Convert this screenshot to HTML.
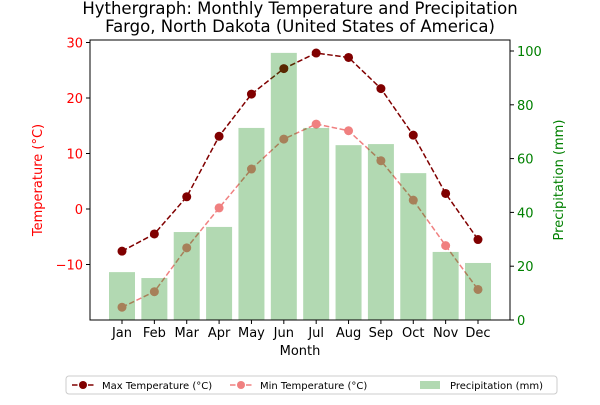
<!DOCTYPE html>
<html><head><meta charset="utf-8"><style>
body{margin:0;background:#fff;font-family:"Liberation Sans","DejaVu Sans",sans-serif}
svg text{font-family:"DejaVu Sans","Liberation Sans",sans-serif}
</style></head><body>
<svg id="c" width="600" height="400" xmlns="http://www.w3.org/2000/svg">
<text x="300" y="14" text-anchor="middle" font-size="16.5">Hythergraph: Monthly Temperature and Precipitation</text>
<text x="300" y="32" text-anchor="middle" font-size="16.5">Fargo, North Dakota (United States of America)</text>
<g id="lines"></g><g id="bars"></g><g id="axes"></g>
</svg>
<script>
const months=["Jan","Feb","Mar","Apr","May","Jun","Jul","Aug","Sep","Oct","Nov","Dec"];
const maxT=[-7.6,-4.5,2.2,13.1,20.7,25.3,28.1,27.3,21.7,13.3,2.8,-5.5];
const minT=[-17.7,-14.9,-7.0,0.2,7.2,12.6,15.3,14.1,8.7,1.6,-6.6,-14.5];
const precip=[17.8,15.6,32.7,34.6,71.4,99.3,71.4,65.0,65.4,54.6,25.3,21.2];
const tTicks=[-10,0,10,20,30];
const pTicks=[0,20,40,60,80,100];
const NS="http://www.w3.org/2000/svg";
const L=90,R=510,T=40,B=320;
const xs=i=>122+i*(478-122)/11;
const yt=v=>209-v*5.55;
const yp=v=>320-v*2.69;
function mk(t,a,p){const e=document.createElementNS(NS,t);for(const k in a)e.setAttribute(k,a[k]);(p||document.getElementById('axes')).appendChild(e);return e;}
const bars=document.getElementById('bars'),lines=document.getElementById('lines');
precip.forEach((v,i)=>{const r=mk('rect',{x:xs(i)-13,y:yp(v),width:26,height:B-yp(v),fill:'green','fill-opacity':0.3},bars);

});
function series(d,col,name){const pts=d.map((v,i)=>xs(i)+','+yt(v)).join(' ');
const pl=mk('polyline',{points:pts,fill:'none',stroke:col,'stroke-width':1.5,'stroke-dasharray':'5.5,2.5'},lines);


d.forEach((v,i)=>{const c=mk('circle',{cx:xs(i),cy:yt(v),r:4.5,fill:col},lines);

});}
series(minT,'#f08080','min-temp');
series(maxT,'#800000','max-temp');
const f=mk('rect',{x:L,y:T,width:R-L,height:B-T,fill:'none',stroke:'#000','stroke-width':1});

months.forEach((m,i)=>{mk('line',{x1:xs(i),x2:xs(i),y1:B,y2:B+4,stroke:'#000'});
const t=mk('text',{x:xs(i),y:B+17,'text-anchor':'middle','font-size':13});t.textContent=m;
});
tTicks.forEach(v=>{mk('line',{x1:L-4,x2:L,y1:yt(v),y2:yt(v),stroke:'#000'});
const t=mk('text',{x:L-7,y:yt(v)+5,'text-anchor':'end','font-size':13,fill:'red'});t.textContent=v<0?'\u2212'+(-v):v;
});
pTicks.forEach(v=>{mk('line',{x1:R,x2:R+4,y1:yp(v),y2:yp(v),stroke:'#000'});
const t=mk('text',{x:R+7,y:yp(v)+5,'font-size':13,fill:'green'});t.textContent=v;
});
let t=mk('text',{x:300,y:355,'text-anchor':'middle','font-size':13});t.textContent='Month';

t=mk('text',{x:42,y:180,'text-anchor':'middle','font-size':13,fill:'red',transform:'rotate(-90 42 180)'});t.textContent='Temperature (°C)';

t=mk('text',{x:563,y:180,'text-anchor':'middle','font-size':13,fill:'green',transform:'rotate(-90 563 180)'});t.textContent='Precipitation (mm)';

const lg=mk('rect',{x:66,y:376,width:491,height:18,rx:3,fill:'#fff',stroke:'#ccc'});

function le(x,col,label,bar){if(bar){mk('rect',{x:x,y:381,width:20,height:8,fill:'green','fill-opacity':0.3});}else{
mk('line',{x1:x,x2:x+22,y1:385,y2:385,stroke:col,'stroke-width':1.5,'stroke-dasharray':'5.5,2.5'});mk('circle',{cx:x+11,cy:385,r:4,fill:col});}
const tt=mk('text',{x:x+30,y:389,'font-size':10});tt.textContent=label;
}
le(72,'#800000','Max Temperature (°C)');
le(230,'#f08080','Min Temperature (°C)');
le(420,null,'Precipitation (mm)',true);
</script>
</body></html>
